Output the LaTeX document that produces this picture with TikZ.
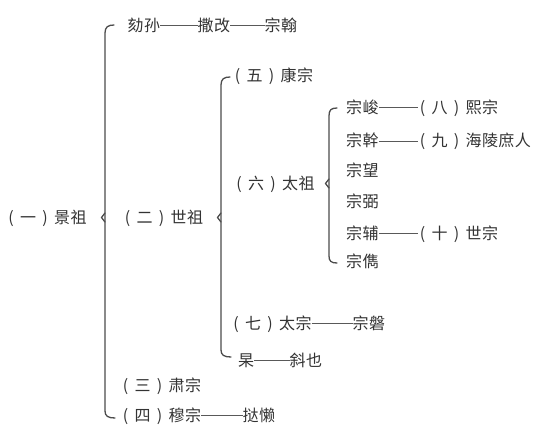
\documentclass[tikz,border=0pt]{standalone}
\usepackage{fontspec}
\setmainfont{Noto Sans CJK SC}[LetterSpace=3]
\newcommand\lp{\makebox[1.12em]{(}}
\newcommand\rp{\makebox[1.12em]{)}}
\begin{document}
\begin{tikzpicture}[x=1pt,y=-1pt,
  every node/.style={inner sep=0pt, anchor=base west, yshift=-6pt,
    font=\fontsize{16pt}{19pt}\selectfont, text=black!80},
  bracestyle/.style={draw=black!70, line width=1.3pt, line cap=round, line join=round},
  conn/.style={draw=black!65, line width=0.9pt}]
\useasboundingbox[fill=white] (0,0) rectangle (548,434);
% braces
\draw[bracestyle] (114,25) .. controls (108,25) and (105,27) .. (105,33) -- (105,411) .. controls (105,416) and (108,418) .. (115,418);
\draw[bracestyle] (105,213) -- (101.5,217.5) -- (105,222);
\draw[bracestyle] (230,77) .. controls (224,77) and (221,79) .. (221,85) -- (221,350) .. controls (221,355) and (224,357) .. (231,357);
\draw[bracestyle] (221,213) -- (217.5,217.5) -- (221,222);
\draw[bracestyle] (337,108) .. controls (331,108) and (329,110) .. (329,116) -- (329,256) .. controls (329,261) and (331,263) .. (337,263);
\draw[bracestyle] (329,179) -- (325.5,183.5) -- (329,188);
% nodes
\node (jingzu) at (2,217) {\lp 一\rp 景祖};
\node (hesun) at (127.5,25) {劾孙};
\node (sagai) at (197.5,25) {撒改};
\node (zonghan) at (264.5,25) {宗翰};
\node (shizu) at (118.5,217) {\lp 二\rp 世祖};
\node (kangzong) at (228.5,75) {\lp 五\rp 康宗};
\node (taizu) at (230,183) {\lp 六\rp 太祖};
\node (zongjun) at (346,107) {宗峻};
\node (xizong) at (413.5,107) {\lp 八\rp 熙宗};
\node (zonggan) at (346,140.5) {宗幹};
\node (hailing) at (413.5,140.5) {\lp 九\rp 海陵庶人};
\node (zongwang) at (346,170) {宗望};
\node (zongbi) at (346,201.5) {宗弼};
\node (zongfu) at (346,233) {宗辅};
\node (shizong) at (413.5,233) {\lp 十\rp 世宗};
\node (zongjun2) at (346,261.5) {宗儁};
\node (taizong) at (227,323) {\lp 七\rp 太宗};
\node (zongpan) at (352.5,323) {宗磐};
\node (gao) at (238,360) {杲};
\node (xieye) at (289.5,360) {斜也};
\node (suzong) at (116.5,385) {\lp 三\rp 肃宗};
\node (muzong) at (116.5,415) {\lp 四\rp 穆宗};
\node (talan) at (242.5,415) {挞懒};
% connectors
\tikzset{lk/.style={conn}}
\draw[lk] ([yshift=5.5pt]hesun.base east) -- ([yshift=5.5pt]sagai.base west);
\draw[lk] ([yshift=5.5pt]sagai.base east) -- ([yshift=5.5pt]zonghan.base west);
\draw[lk] ([yshift=5.5pt]zongjun.base east) -- ([yshift=5.5pt,xshift=4pt]xizong.base west);
\draw[lk] ([yshift=5.5pt]zonggan.base east) -- ([yshift=5.5pt,xshift=4pt]hailing.base west);
\draw[lk] ([yshift=5.5pt]zongfu.base east) -- ([yshift=5.5pt,xshift=4pt]shizong.base west);
\draw[lk] ([yshift=5.5pt]taizong.base east) -- ([yshift=5.5pt]zongpan.base west);
\draw[lk] ([yshift=5.5pt]gao.base east) -- ([yshift=5.5pt]xieye.base west);
\draw[lk] ([yshift=5.5pt]muzong.base east) -- ([yshift=5.5pt]talan.base west);
\end{tikzpicture}
\end{document}
